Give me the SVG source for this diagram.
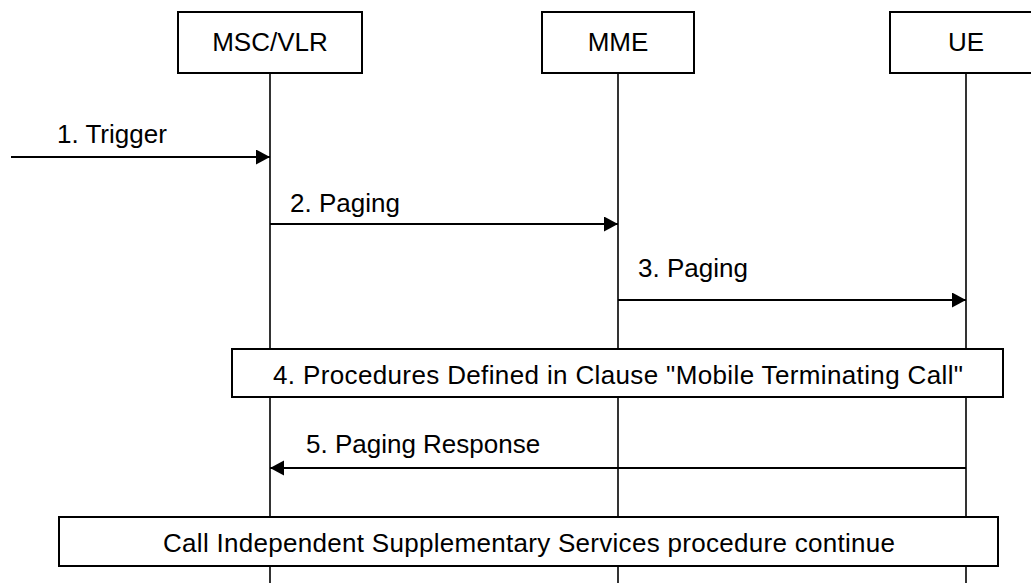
<svg xmlns="http://www.w3.org/2000/svg" width="1031" height="583" viewBox="0 0 1031 583">
<style>
.box{fill:#fff;stroke:#000;stroke-width:2}
.life{stroke:#000;stroke-width:1.6;fill:none}
.msg{stroke:#000;stroke-width:2;fill:none;marker-end:url(#ah)}
text{font-family:"Liberation Sans",Arial,sans-serif;font-size:26px;fill:#000}
.c{text-anchor:middle}
</style>
<defs>
<marker id="ah" markerUnits="userSpaceOnUse" markerWidth="16" markerHeight="16" refX="14" refY="7.5" orient="auto">
<path d="M0,0 L14,7.5 L0,15 Z" fill="#000"/>
</marker>
</defs>
<g id="lifelines">
<line class="life" x1="270" y1="73" x2="270" y2="583"/>
<line class="life" x1="618" y1="73" x2="618" y2="583"/>
<line class="life" x1="966" y1="73" x2="966" y2="583"/>
</g>
<g id="node-msc"><rect class="box" x="178" y="12" width="184" height="61"/><text class="c" x="270" y="51">MSC/VLR</text></g>
<g id="node-mme"><rect class="box" x="542" y="12" width="152" height="61"/><text class="c" x="618" y="51">MME</text></g>
<g id="node-ue"><rect class="box" x="890" y="12" width="152" height="61"/><text class="c" x="966" y="51">UE</text></g>
<g id="connectors">
<line class="msg" x1="11" y1="157" x2="270" y2="157"/>
<text x="57" y="143">1. Trigger</text>
<line class="msg" x1="270" y1="224" x2="618" y2="224"/>
<text x="290" y="212">2. Paging</text>
<line class="msg" x1="618" y1="300" x2="966" y2="300"/>
<text x="638" y="277">3. Paging</text>
<line class="msg" x1="966" y1="468" x2="270" y2="468"/>
<text x="306" y="453">5. Paging Response</text>
</g>
<g id="node-proc4"><rect class="box" x="232" y="349" width="771" height="48"/><text class="c" x="618" y="384" textLength="690">4. Procedures Defined in Clause "Mobile Terminating Call"</text></g>
<g id="node-continue"><rect class="box" x="59" y="517" width="939" height="49"/><text class="c" x="529" y="552" textLength="732">Call Independent Supplementary Services procedure continue</text></g>
</svg>
